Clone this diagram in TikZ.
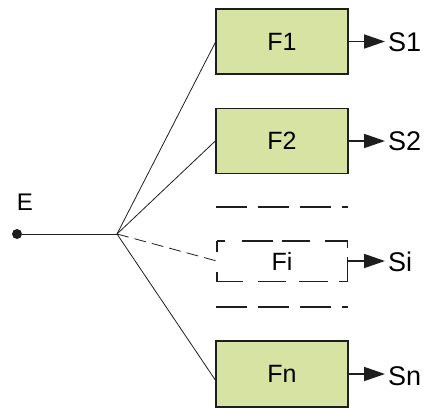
\documentclass[tikz,border=0pt]{standalone}
\usepackage{fontspec}
\setmainfont{Liberation Sans}
\usetikzlibrary{arrows.meta}
\definecolor{boxgreen}{RGB}{214,227,163}
\definecolor{ink}{RGB}{30,30,30}
\tikzset{
  fbox/.style={draw=ink, line width=1.4pt, fill=boxgreen, minimum width=132pt, minimum height=65pt, inner sep=0pt, font=\fontsize{25}{27}\selectfont},
  fdash/.style={minimum width=130pt, minimum height=40pt, inner sep=0pt, font=\fontsize{25}{27}\selectfont},
  fdashline/.style={draw=ink, line width=1.4pt, dash pattern=on 8pt off 17pt on 31pt off 9pt on 28pt off 15pt on 30pt off 9pt on 32pt off 11pt on 29pt off 13pt on 28pt off 15pt on 35pt off 20pt on 10pt off 0pt},
  slabel/.style={anchor=west, inner sep=0pt, font=\fontsize{27}{29}\selectfont},
  fan/.style={draw=ink, line width=0.8pt},
  outarrow/.style={draw=ink, line width=1.8pt, -{Triangle[length=21pt,width=14pt]}},
  sep/.style={draw=ink, line width=1.4pt, dash pattern=on 31pt off 11pt}
}
\begin{document}
\begin{tikzpicture}[x=1pt,y=-1pt]
\useasboundingbox (0,0) rectangle (430,407);
\node[fbox] (f1) at (282,41.5) {F1};
\node[fbox] (f2) at (282,141) {F2};
\node[fdash] (fi) at (282,261) {Fi};
\draw[fdashline] (fi.north west) -- (fi.north east) -- (fi.south east) -- (fi.south west) -- cycle;
\node[fbox, minimum height=66pt] (fn) at (282,374) {Fn};
\coordinate (d1a) at (216,207);
\coordinate (d1b) at (348,207);
\coordinate (d2a) at (216,307);
\coordinate (d2b) at (348,307);
\draw[sep] (d1a) -- (d1b);
\draw[sep] (d2a) -- (d2b);
\node[circle, fill=ink, inner sep=0pt, minimum size=10pt] (e) at (17,234) {};
\node[inner sep=0pt, font=\fontsize{24}{26}\selectfont] (elab) at (25,202) {E};
\coordinate (fp) at (117,234);
\draw[fan] (e) -- (fp);
\draw[fan] (fp) -- ([yshift=-1pt]f1.west);
\draw[fan] (fp) -- (f2.west);
\draw[fan, dash pattern=on 12pt off 6pt] (fp) -- (fi.west);
\draw[fan] (fp) -- ([yshift=-6pt]fn.west);
\coordinate (a1) at (385,41.5);
\coordinate (a2) at (385,141);
\coordinate (ai) at (385,261);
\coordinate (an) at (385,374);
\draw[outarrow] (f1.east) -- (a1);
\draw[outarrow] (f2.east) -- (a2);
\draw[outarrow] (fi.east) -- (ai);
\draw[outarrow] (fn.east) -- (an);
\node[slabel] (s1) at (388,42) {S1};
\node[slabel] (s2) at (388,141) {S2};
\node[slabel] (si) at (388,262) {Si};
\node[slabel] (sn) at (388,376) {Sn};
\end{tikzpicture}
\end{document}
